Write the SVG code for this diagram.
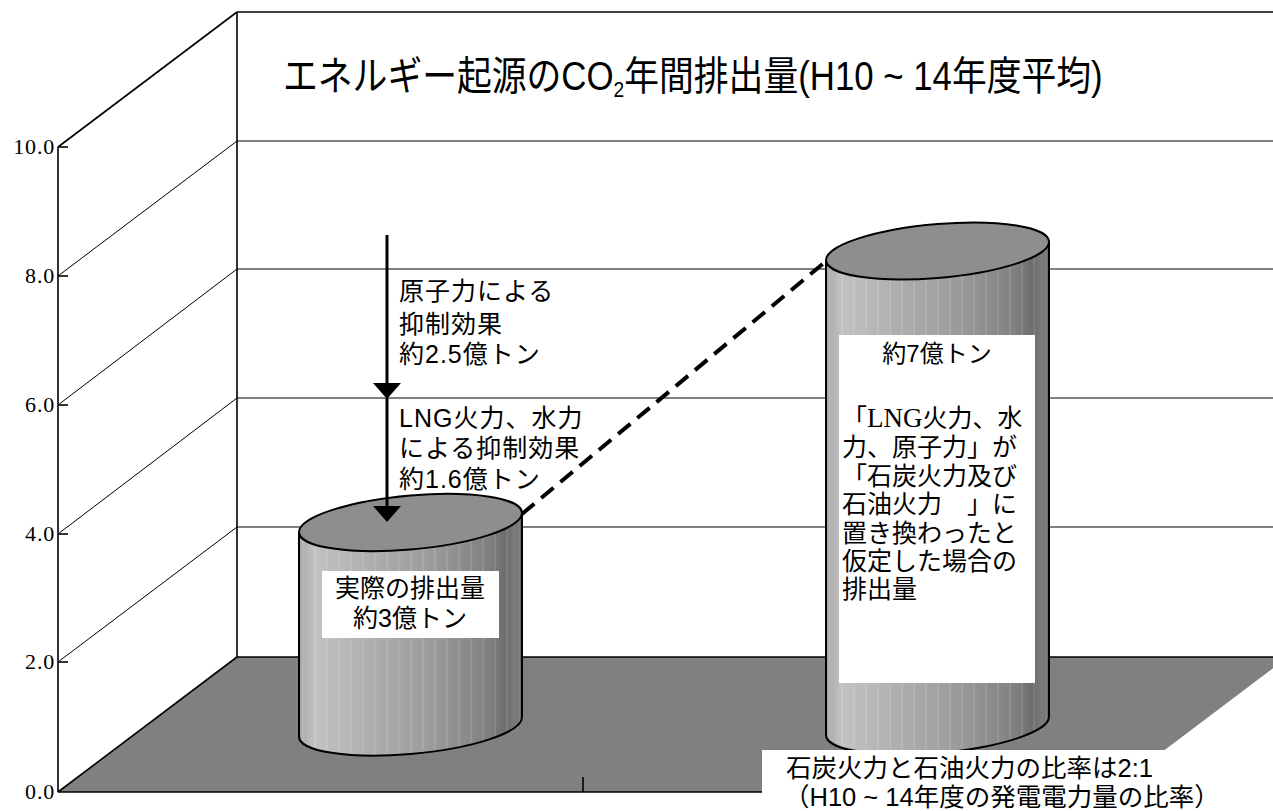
<svg xmlns="http://www.w3.org/2000/svg" width="1273" height="811" viewBox="0 0 1273 811">
<style>
.jp{font-family:"Liberation Sans","Noto Sans CJK JP",sans-serif;fill:#000}
.num{font-family:"Liberation Serif",serif;font-size:22px;fill:#000;text-anchor:end;letter-spacing:0.8px}
.grid{stroke:#000;stroke-width:1;fill:none}
.axis{stroke:#000;stroke-width:1.6;fill:none}
.cylbody{fill:url(#cylGrad);stroke:none}
.cylstripe{fill:url(#stripes);stroke:none}
.cyloutline{fill:none;stroke:#000;stroke-width:2}
.cyltop{fill:#8e8e8e;stroke:#000;stroke-width:2}
.box{fill:#fff;stroke:none}
</style>
<defs>
<linearGradient id="cylGrad" x1="0" y1="0" x2="1" y2="0">
<stop offset="0" stop-color="#a6a6a6"/>
<stop offset="0.07" stop-color="#c2c2c2"/>
<stop offset="0.3" stop-color="#b0b0b0"/>
<stop offset="0.6" stop-color="#9a9a9a"/>
<stop offset="0.85" stop-color="#808080"/>
<stop offset="0.93" stop-color="#6c6c6c"/>
<stop offset="0.97" stop-color="#7c7c7c"/>
<stop offset="1" stop-color="#666"/>
</linearGradient>
<pattern id="stripes" patternUnits="userSpaceOnUse" width="12" height="10">
<rect x="0" y="0" width="1" height="10" fill="#fff" fill-opacity="0.22"/>
</pattern>
</defs>
<rect x="0" y="0" width="1273" height="811" fill="#fff"/>
<g id="chart-frame">
<polygon points="58,792 237,657 1288,657 1109,792" fill="#808080" stroke="none"/>
<line class="axis" x1="237" y1="657" x2="1273" y2="657"/>
<line class="axis" x1="58" y1="792" x2="237" y2="657"/>
<line class="axis" x1="58" y1="792" x2="762" y2="792"/>
<line class="grid" x1="237" y1="141" x2="1273" y2="141"/>
<line class="grid" x1="237" y1="269" x2="1273" y2="269"/>
<line class="grid" x1="237" y1="398" x2="1273" y2="398"/>
<line class="grid" x1="237" y1="527" x2="1273" y2="527"/>
<line class="grid" x1="58" y1="276" x2="237" y2="141"/>
<line class="grid" x1="58" y1="405" x2="237" y2="269"/>
<line class="grid" x1="58" y1="534" x2="237" y2="398"/>
<line class="grid" x1="58" y1="662" x2="237" y2="527"/>
<line class="axis" x1="58" y1="147" x2="237" y2="12"/>
<line class="axis" x1="237" y1="12" x2="1273" y2="12"/>
<line class="axis" x1="237" y1="12" x2="237" y2="657"/>
<line class="axis" x1="58" y1="147" x2="58" y2="792"/>
<g class="axis">
<line x1="58" y1="147" x2="68" y2="147"/>
<line x1="58" y1="276" x2="68" y2="276"/>
<line x1="58" y1="405" x2="68" y2="405"/>
<line x1="58" y1="534" x2="68" y2="534"/>
<line x1="58" y1="662" x2="68" y2="662"/>
<line x1="583" y1="777" x2="583" y2="792"/>
</g>
<text class="num" x="55" y="154">10.0</text>
<text class="num" x="55" y="283">8.0</text>
<text class="num" x="55" y="412">6.0</text>
<text class="num" x="55" y="541">4.0</text>
<text class="num" x="55" y="669">2.0</text>
<text class="num" x="55" y="799">0.0</text>
</g>
<g id="title">
<text class="jp" font-size="40" transform="translate(283,90) scale(0.87,1)">エネルギー起源のCO<tspan font-size="22" dy="7">2</tspan><tspan dy="-7">年間排出量(H10 ~ 14年度平均)</tspan></text>
</g>
<g id="cylinder-actual" transform="translate(410.5,522.5) skewY(-4.9)">
<path class="cylbody" d="M-111.5,0 L-111.5,204.5 A111.5,27 0 0 0 111.5,204.5 L111.5,0 Z"/>
<path class="cylstripe" d="M-111.5,0 L-111.5,204.5 A111.5,27 0 0 0 111.5,204.5 L111.5,0 Z"/>
<path class="cyloutline" d="M-111.5,0 L-111.5,204.5 A111.5,27 0 0 0 111.5,204.5 L111.5,0"/>
<ellipse class="cyltop" cx="0" cy="0" rx="111.5" ry="27"/>
</g>
<g id="label-actual">
<rect class="box" x="322" y="571" width="177" height="67"/>
<text class="jp" font-size="25" x="410" y="597" text-anchor="middle">実際の排出量</text>
<text class="jp" font-size="25" x="410" y="627" text-anchor="middle">約3億トン</text>
</g>
<g id="cylinder-assumed" transform="translate(937.5,251) skewY(-4.7)">
<path class="cylbody" d="M-111.5,0 L-111.5,475 A111.5,27 0 0 0 111.5,475 L111.5,0 Z"/>
<path class="cylstripe" d="M-111.5,0 L-111.5,475 A111.5,27 0 0 0 111.5,475 L111.5,0 Z"/>
<path class="cyloutline" d="M-111.5,0 L-111.5,475 A111.5,27 0 0 0 111.5,475 L111.5,0"/>
<ellipse class="cyltop" cx="0" cy="0" rx="111.5" ry="27"/>
</g>
<g id="label-assumed">
<rect class="box" x="839" y="335" width="196" height="348"/>
<text class="jp" font-size="24" x="937" y="362" text-anchor="middle">約7億トン</text>
<text class="jp" font-size="25" x="842" y="427">「<tspan font-family="Liberation Serif" font-size="27">LNG</tspan>火力、水</text>
<text class="jp" font-size="25" x="842" y="456">力、原子力」が</text>
<text class="jp" font-size="25" x="842" y="485">「石炭火力及び</text>
<text class="jp" font-size="25" x="842" y="513">石油火力　」に</text>
<text class="jp" font-size="25" x="842" y="542">置き換わったと</text>
<text class="jp" font-size="25" x="842" y="570">仮定した場合の</text>
<text class="jp" font-size="25" x="842" y="598">排出量</text>
</g>
<g id="label-nuclear">
<text class="jp" font-size="25" x="399" y="300" letter-spacing="1">原子力による</text>
<text class="jp" font-size="25" x="399" y="333" letter-spacing="1">抑制効果</text>
<text class="jp" font-size="25" x="399" y="363" letter-spacing="1">約2.5億トン</text>
</g>
<g id="label-lng">
<text class="jp" font-size="25" x="399" y="427" letter-spacing="1">LNG火力、水力</text>
<text class="jp" font-size="25" x="399" y="457" letter-spacing="1">による抑制効果</text>
<text class="jp" font-size="25" x="399" y="488" letter-spacing="1">約1.6億トン</text>
</g>
<g id="note">
<rect class="box" x="762" y="750" width="511" height="61"/>
<text class="jp" font-size="25.5" x="786" y="777">石炭火力と石油火力の比率は2:1</text>
<text class="jp" font-size="25.5" x="784" y="806">（H10 ~ 14年度の発電電力量の比率）</text>
</g>
<g id="connectors">
<line x1="387" y1="235" x2="387" y2="386" stroke="#000" stroke-width="3"/>
<polygon points="373,383 401,383 387,399" fill="#000"/>
<line x1="387" y1="398" x2="387" y2="508" stroke="#000" stroke-width="3"/>
<polygon points="373,506 401,506 387,522" fill="#000"/>
<line x1="522" y1="514" x2="825" y2="262" stroke="#000" stroke-width="4" stroke-dasharray="16 9"/>
</g>
</svg>
